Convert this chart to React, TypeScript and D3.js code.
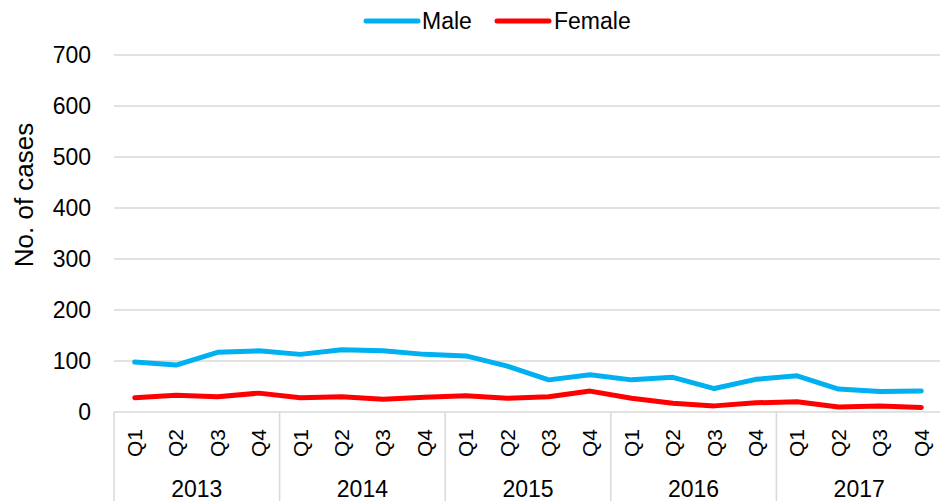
import React from "react";
import * as d3 from "d3";

const years = ["2013", "2014", "2015", "2016", "2017"];
const quarters = ["Q1", "Q2", "Q3", "Q4"];
const maleValues = [98, 92, 117, 120, 113, 122, 120, 113, 110, 90, 63, 73, 63, 68, 46, 64, 71, 45, 40, 41];
const femaleValues = [28, 33, 30, 37, 28, 30, 25, 29, 32, 27, 30, 41, 27, 17, 12, 18, 20, 10, 12, 9];
const yTicks = [0, 100, 200, 300, 400, 500, 600, 700];

const W = 940, H = 501;
const left = 114, right = 942, top = 55, bottom = 412;
const font = "Liberation Sans, Arial, sans-serif";

export default function App() {
  const cats = years.flatMap((y) => quarters.map((q) => `${y}-${q}`));
  const x = d3.scaleBand().domain(cats).range([left, right]);
  const y = d3.scaleLinear().domain([0, 700]).range([bottom, top]);
  const line = d3
    .line<number>()
    .x((_, i) => (x(cats[i]) as number) + x.bandwidth() / 2)
    .y((d) => y(d));
  const yearW = x.bandwidth() * 4;
  return (
    <svg width={W} height={H} style={{ position: "absolute", left: 0, top: 0 }} fontFamily={font}>
      {yTicks.map((t) => (
        <g key={t}>
          <line x1={left} x2={right} y1={y(t)} y2={y(t)} stroke="#d9d9d9" strokeWidth={1.5} />
          <text x={91} y={y(t)} dy="0.35em" textAnchor="end" fontSize={23} fill="#000">
            {t}
          </text>
        </g>
      ))}
      {years.map((yr, i) => {
        const x0 = left + i * yearW;
        return (
          <g key={yr}>
            <line x1={x0} x2={x0} y1={bottom} y2={H} stroke="#d9d9d9" strokeWidth={1.5} />
            <text x={x0 + yearW / 2} y={489} dy="0.35em" textAnchor="middle" fontSize={23}>
              {yr}
            </text>
          </g>
        );
      })}
      <line x1={right - 0.75} x2={right - 0.75} y1={bottom} y2={H} stroke="#d9d9d9" strokeWidth={1.5} />
      {cats.map((c, i) => {
        const cx = (x(c) as number) + x.bandwidth() / 2;
        return (
          <text
            key={c}
            transform={`translate(${cx},443) rotate(-90)`}
            textAnchor="middle"
            dy="0.35em"
            fontSize={21}
          >
            {quarters[i % 4]}
          </text>
        );
      })}
      <text transform="translate(24,195) rotate(-90)" textAnchor="middle" dy="0.35em" fontSize={26}>
        No. of cases
      </text>
      <path d={line(maleValues) || ""} fill="none" stroke="#00B0F0" strokeWidth={5} strokeLinejoin="round" strokeLinecap="round" />
      <path d={line(femaleValues) || ""} fill="none" stroke="#FF0000" strokeWidth={5} strokeLinejoin="round" strokeLinecap="round" />
      <line x1={366} x2={418} y1={21} y2={21} stroke="#00B0F0" strokeWidth={5} strokeLinecap="round" />
      <text x={422} y={21} dy="0.35em" fontSize={23}>Male</text>
      <line x1={497} x2={549} y1={21} y2={21} stroke="#FF0000" strokeWidth={5} strokeLinecap="round" />
      <text x={554} y={21} dy="0.35em" fontSize={23}>Female</text>
    </svg>
  );
}
